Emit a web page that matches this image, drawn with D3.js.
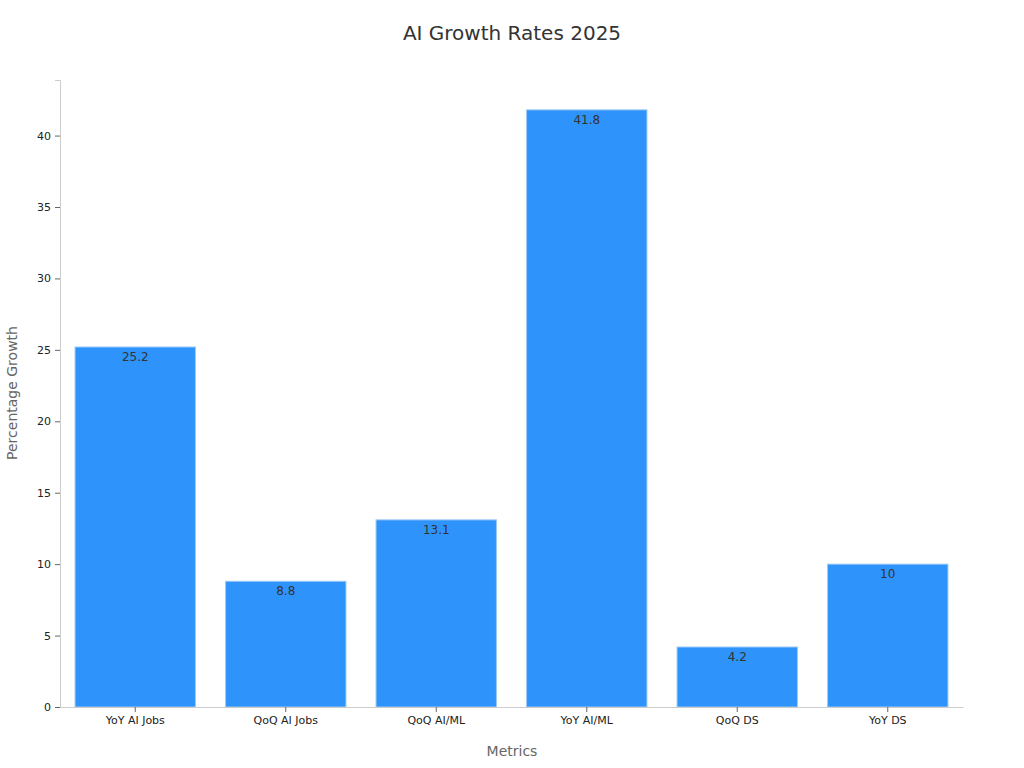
<!DOCTYPE html>
<html><head><meta charset="utf-8">
<script src="https://cdn.jsdelivr.net/npm/d3@7"></script>
<style>body{margin:0;background:#fff;font-family:"DejaVu Sans",sans-serif}</style>
</head><body><svg id="c" width="1024" height="768"></svg>
<script>
const categories = ["YoY AI Jobs","QoQ AI Jobs","QoQ AI/ML","YoY AI/ML","QoQ DS","YoY DS"];
const values = [25.2, 8.8, 13.1, 41.8, 4.2, 10];
const yTicks = [0,5,10,15,20,25,30,35,40];
const labels = ["25.2","8.8","13.1","41.8","4.2","10"];

const svg = d3.select("#c");
const m = {l:60, r:963, t:80, b:707};
const x = d3.scaleBand().domain(categories).range([m.l, m.r]).paddingInner(0.2).paddingOuter(0.1);
const y = d3.scaleLinear().domain([0, 43.89]).range([m.b, m.t]);

svg.append("text").attr("x",512).attr("y",40).attr("text-anchor","middle")
  .attr("font-size",20).attr("fill","#333").text("AI Growth Rates 2025");

svg.selectAll("rect.bar").data(values).join("rect").attr("class","bar")
  .attr("x",(d,i)=>x(categories[i])).attr("width",x.bandwidth())
  .attr("y",d=>y(d)).attr("height",d=>y(0)-y(d))
  .attr("fill","#2E93FA").attr("stroke","#9cc9f5").attr("stroke-width",1);

svg.selectAll("text.val").data(values).join("text").attr("class","val")
  .attr("x",(d,i)=>x(categories[i])+x.bandwidth()/2).attr("y",d=>y(d)+14)
  .attr("text-anchor","middle").attr("font-size",12).attr("fill","#333")
  .text((d,i)=>labels[i]);

const ya = svg.append("g").attr("transform",`translate(${m.l},0)`)
  .call(d3.axisLeft(y).tickValues(yTicks).tickSize(5).tickPadding(4));
ya.select(".domain").attr("stroke","#ccc");
ya.selectAll(".tick line").attr("stroke","#666");
ya.selectAll("text").attr("font-size",11).attr("fill","#222").attr("font-family","DejaVu Sans");

const xa = svg.append("g").attr("transform",`translate(0,${m.b})`)
  .call(d3.axisBottom(x).tickSize(5).tickPadding(4).tickSizeOuter(0));
xa.select(".domain").attr("stroke","#ccc");
xa.selectAll(".tick line").attr("stroke","#666");
xa.selectAll("text").attr("font-size",11).attr("fill","#222").attr("font-family","DejaVu Sans");

svg.append("text").attr("x",512).attr("y",756).attr("text-anchor","middle")
  .attr("font-size",14).attr("fill","#666").text("Metrics");
svg.append("text").attr("transform","translate(17,393) rotate(-90)").attr("text-anchor","middle")
  .attr("font-size",14).attr("fill","#666").text("Percentage Growth");
</script></body></html>
